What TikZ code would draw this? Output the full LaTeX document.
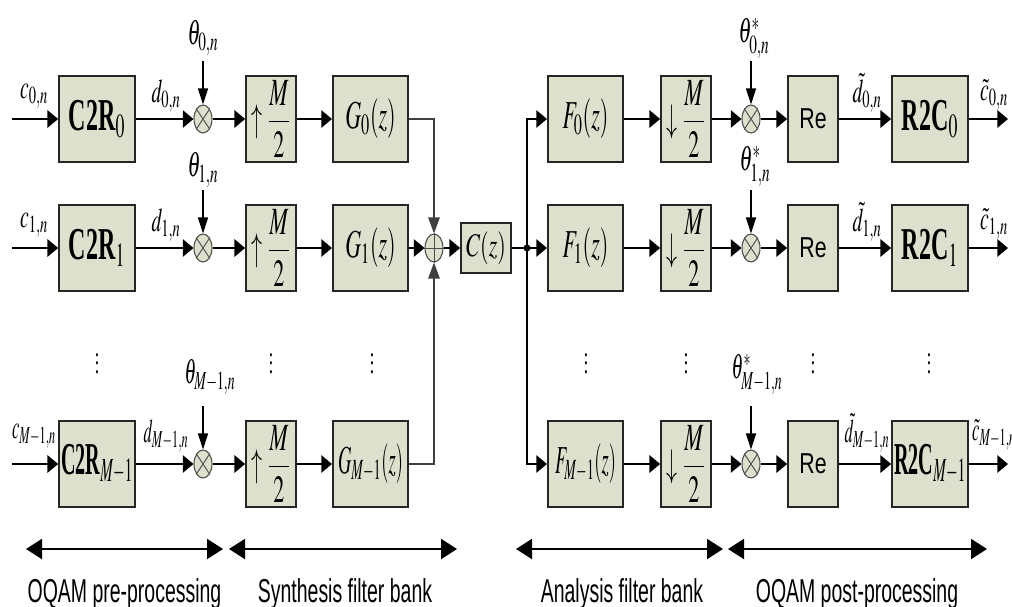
\documentclass[tikz,border=0pt]{standalone}
\usepackage{mathptmx}
\usepackage{fontspec}
\setmainfont{Liberation Serif}
\newfontfamily\labelsans{Liberation Sans}
\usepackage{graphicx}
\usetikzlibrary{arrows.meta,shapes.geometric}
\definecolor{boxfill}{RGB}{221,224,204}
% stretched text: \vsx{x-scale}{y-scale}{text}
\newcommand\vsx[3]{\scalebox{#1}[#2]{#3}}
\newcommand\mfont{\fontsize{16.5}{19}\selectfont}
\newcommand\lfont{\fontsize{15.5}{18}\selectfont}

\begin{document}
\begin{tikzpicture}[x=0.75pt,y=-0.75pt,
  blk/.style={draw=black!85,line width=1.3pt,fill=boxfill,inner sep=0pt,minimum height=64.5pt},
  wide/.style={blk,minimum width=56.5pt},
  narrow/.style={blk,minimum width=37.5pt},
  op/.style={ellipse,draw=black!70,line width=0.8pt,fill=boxfill,inner sep=0pt,minimum width=13.5pt,minimum height=21pt},
  opline/.style={line width=0.7pt,draw=black!70},
  sig/.style={line width=1.4pt,-{Triangle[length=8pt,width=13pt]}},
  vsig/.style={line width=1.4pt,-{Triangle[length=12pt,width=8.5pt]}},
  wire/.style={line width=1.4pt},
  phase/.style={line width=1pt,-{Triangle[length=12pt,width=7.5pt]}},
  lab/.style={inner sep=0pt},
  span/.style={line width=1.5pt,{Triangle[length=12pt,width=15pt]}-{Triangle[length=12pt,width=15pt]}},
  stage/.style={inner sep=0pt,anchor=base,font=\labelsans\fontsize{14.6}{17}\selectfont},
]
\useasboundingbox (0,0) rectangle (1012,606);

% ---- the three sub-channels ----
\foreach \r/\y/\s/\o/\w/\lw in {0/119/0/-23/1/0.95, 1/248/1/-23/1/0.95, 2/464/M-1/-28/0.84/0.8}{
  \coordinate (in\r) at (12,\y);
  \coordinate (out\r) at (1008,\y);
  \node[wide,minimum width=57pt] (c2r\r) at (97,\y) {\vsx{\w}{1.9}{\fontsize{18}{21}\selectfont\bfseries C2R$_{\s}$}};
  \node[op] (mx\r) at (203,\y) {};
  \draw[opline] (mx\r.north east) -- (mx\r.south west) (mx\r.north west) -- (mx\r.south east);
  \node[narrow] (up\r) at (271,\y) {\vsx{1}{1.75}{\mfont$\uparrow\displaystyle\frac{M}{2}$}};
  \node[wide] (g\r) at (370.5,\y) {\vsx{\w}{1.8}{\mfont$G_{\s}(z)$}};
  \node[wide] (f\r) at (585.5,\y) {\vsx{\w}{1.8}{\mfont$F_{\s}(z)$}};
  \node[narrow] (dn\r) at (686,\y) {\vsx{1}{1.75}{\mfont$\downarrow\displaystyle\frac{M}{2}$}};
  \node[op] (my\r) at (751,\y) {};
  \draw[opline] (my\r.north east) -- (my\r.south west) (my\r.north west) -- (my\r.south east);
  \node[narrow] (re\r) at (813,\y) {\vsx{1}{1.35}{\labelsans\fontsize{16}{18}\selectfont Re}};
  \node[wide,minimum width=57pt] (r2c\r) at (930,\y) {\vsx{\w}{1.9}{\fontsize{18}{21}\selectfont\bfseries R2C$_{\s}$}};
  % signal path
  \draw[sig] (in\r) -- (c2r\r);
  \draw[sig] (c2r\r) -- (mx\r);
  \draw[sig] (mx\r) -- (up\r);
  \draw[sig] (up\r) -- (g\r);
  \draw[sig] (f\r) -- (dn\r);
  \draw[sig] (dn\r) -- (my\r);
  \draw[sig] (my\r) -- (re\r);
  \draw[sig] (re\r) -- (r2c\r);
  \draw[sig] (r2c\r) -- (out\r);
  % phase inputs
  \coordinate (th\r) at (203,\y-58);
  \coordinate (ts\r) at (751,\y-58);
  \draw[phase] (th\r) -- (mx\r);
  \draw[phase] (ts\r) -- (my\r);
  % signal labels
  \node[lab] (cl\r) at (34,\y+\o) {\vsx{\lw}{1.6}{\lfont$c_{\s,n}$}};
  \node[lab] (dl\r) at (166,\y+\o) {\vsx{\lw}{1.6}{\lfont$d_{\s,n}$}};
  \node[lab] (dtl\r) at (867,\y+\o-3) {\vsx{\lw}{1.6}{\lfont$\tilde{d}_{\s,n}$}};
  \node[lab] (ctl\r) at (994,\y+\o-1) {\vsx{\lw}{1.6}{\lfont$\tilde{c}_{\s,n}$}};
}

% phase labels
\node[lab] (thl0) at (203,38) {\vsx{1}{1.7}{\lfont$\theta_{0,n}$}};
\node[lab] (thl1) at (203,170) {\vsx{1}{1.7}{\lfont$\theta_{1,n}$}};
\node[lab] (thl2) at (210,377) {\vsx{0.9}{1.7}{\lfont$\theta_{M-1,n}$}};
\node[lab] (tsl0) at (754,38) {\vsx{1}{1.7}{\lfont$\theta^{*}_{0,n}$}};
\node[lab] (tsl1) at (755,166) {\vsx{1}{1.7}{\lfont$\theta^{*}_{1,n}$}};
\node[lab] (tsl2) at (757,374) {\vsx{0.9}{1.7}{\lfont$\theta^{*}_{M-1,n}$}};

% synthesis sum, channel and analysis split
\node[op] (sum) at (434,248) {};
\draw[opline] (sum.north) -- (sum.south) (sum.west) -- (sum.east);
\node[blk,minimum width=37.5pt,minimum height=37.5pt] (cz) at (486,248) {\vsx{1}{1.5}{\mfont$C(z)$}};
\coordinate (jn) at (527,248);

\draw[vsig,draw=black!75] (g0.east) -| (sum.north);
\draw[sig] (g1) -- (sum);
\draw[vsig,draw=black!75] (g2.east) -| (sum.south);
\draw[sig] (sum) -- (cz);
\draw[wire] (cz) -- (jn);
\draw[sig] (jn) -- (f1);
\draw[sig] (jn) |- (f0.west);
\draw[sig] (jn) |- (f2.west);
\fill (jn) circle (3.5);

% omitted channels
\foreach \x in {97,271,372,586,686,813,929}
  \node[lab] (dots\x) at (\x,357) {\vsx{1}{1.6}{\fontsize{13}{15}\selectfont$\vdots$}};

% stage spans
\coordinate (s1a) at (26,549);  \coordinate (s1b) at (223,549);
\coordinate (s2a) at (229,549); \coordinate (s2b) at (457,549);
\coordinate (s3a) at (516,549); \coordinate (s3b) at (723,549);
\coordinate (s4a) at (728,549); \coordinate (s4b) at (987,549);
\draw[span] (s1a) -- (s1b);
\draw[span] (s2a) -- (s2b);
\draw[span] (s3a) -- (s3b);
\draw[span] (s4a) -- (s4b);
\node[stage] (st1) at (124.5,602) {\vsx{1}{1.7}{OQAM pre-processing}};
\node[stage] (st2) at (345,602) {\vsx{1}{1.7}{Synthesis filter bank}};
\node[stage] (st3) at (622,602) {\vsx{1}{1.7}{Analysis filter bank}};
\node[stage] (st4) at (857,602) {\vsx{1}{1.7}{OQAM post-processing}};
\end{tikzpicture}
\end{document}
